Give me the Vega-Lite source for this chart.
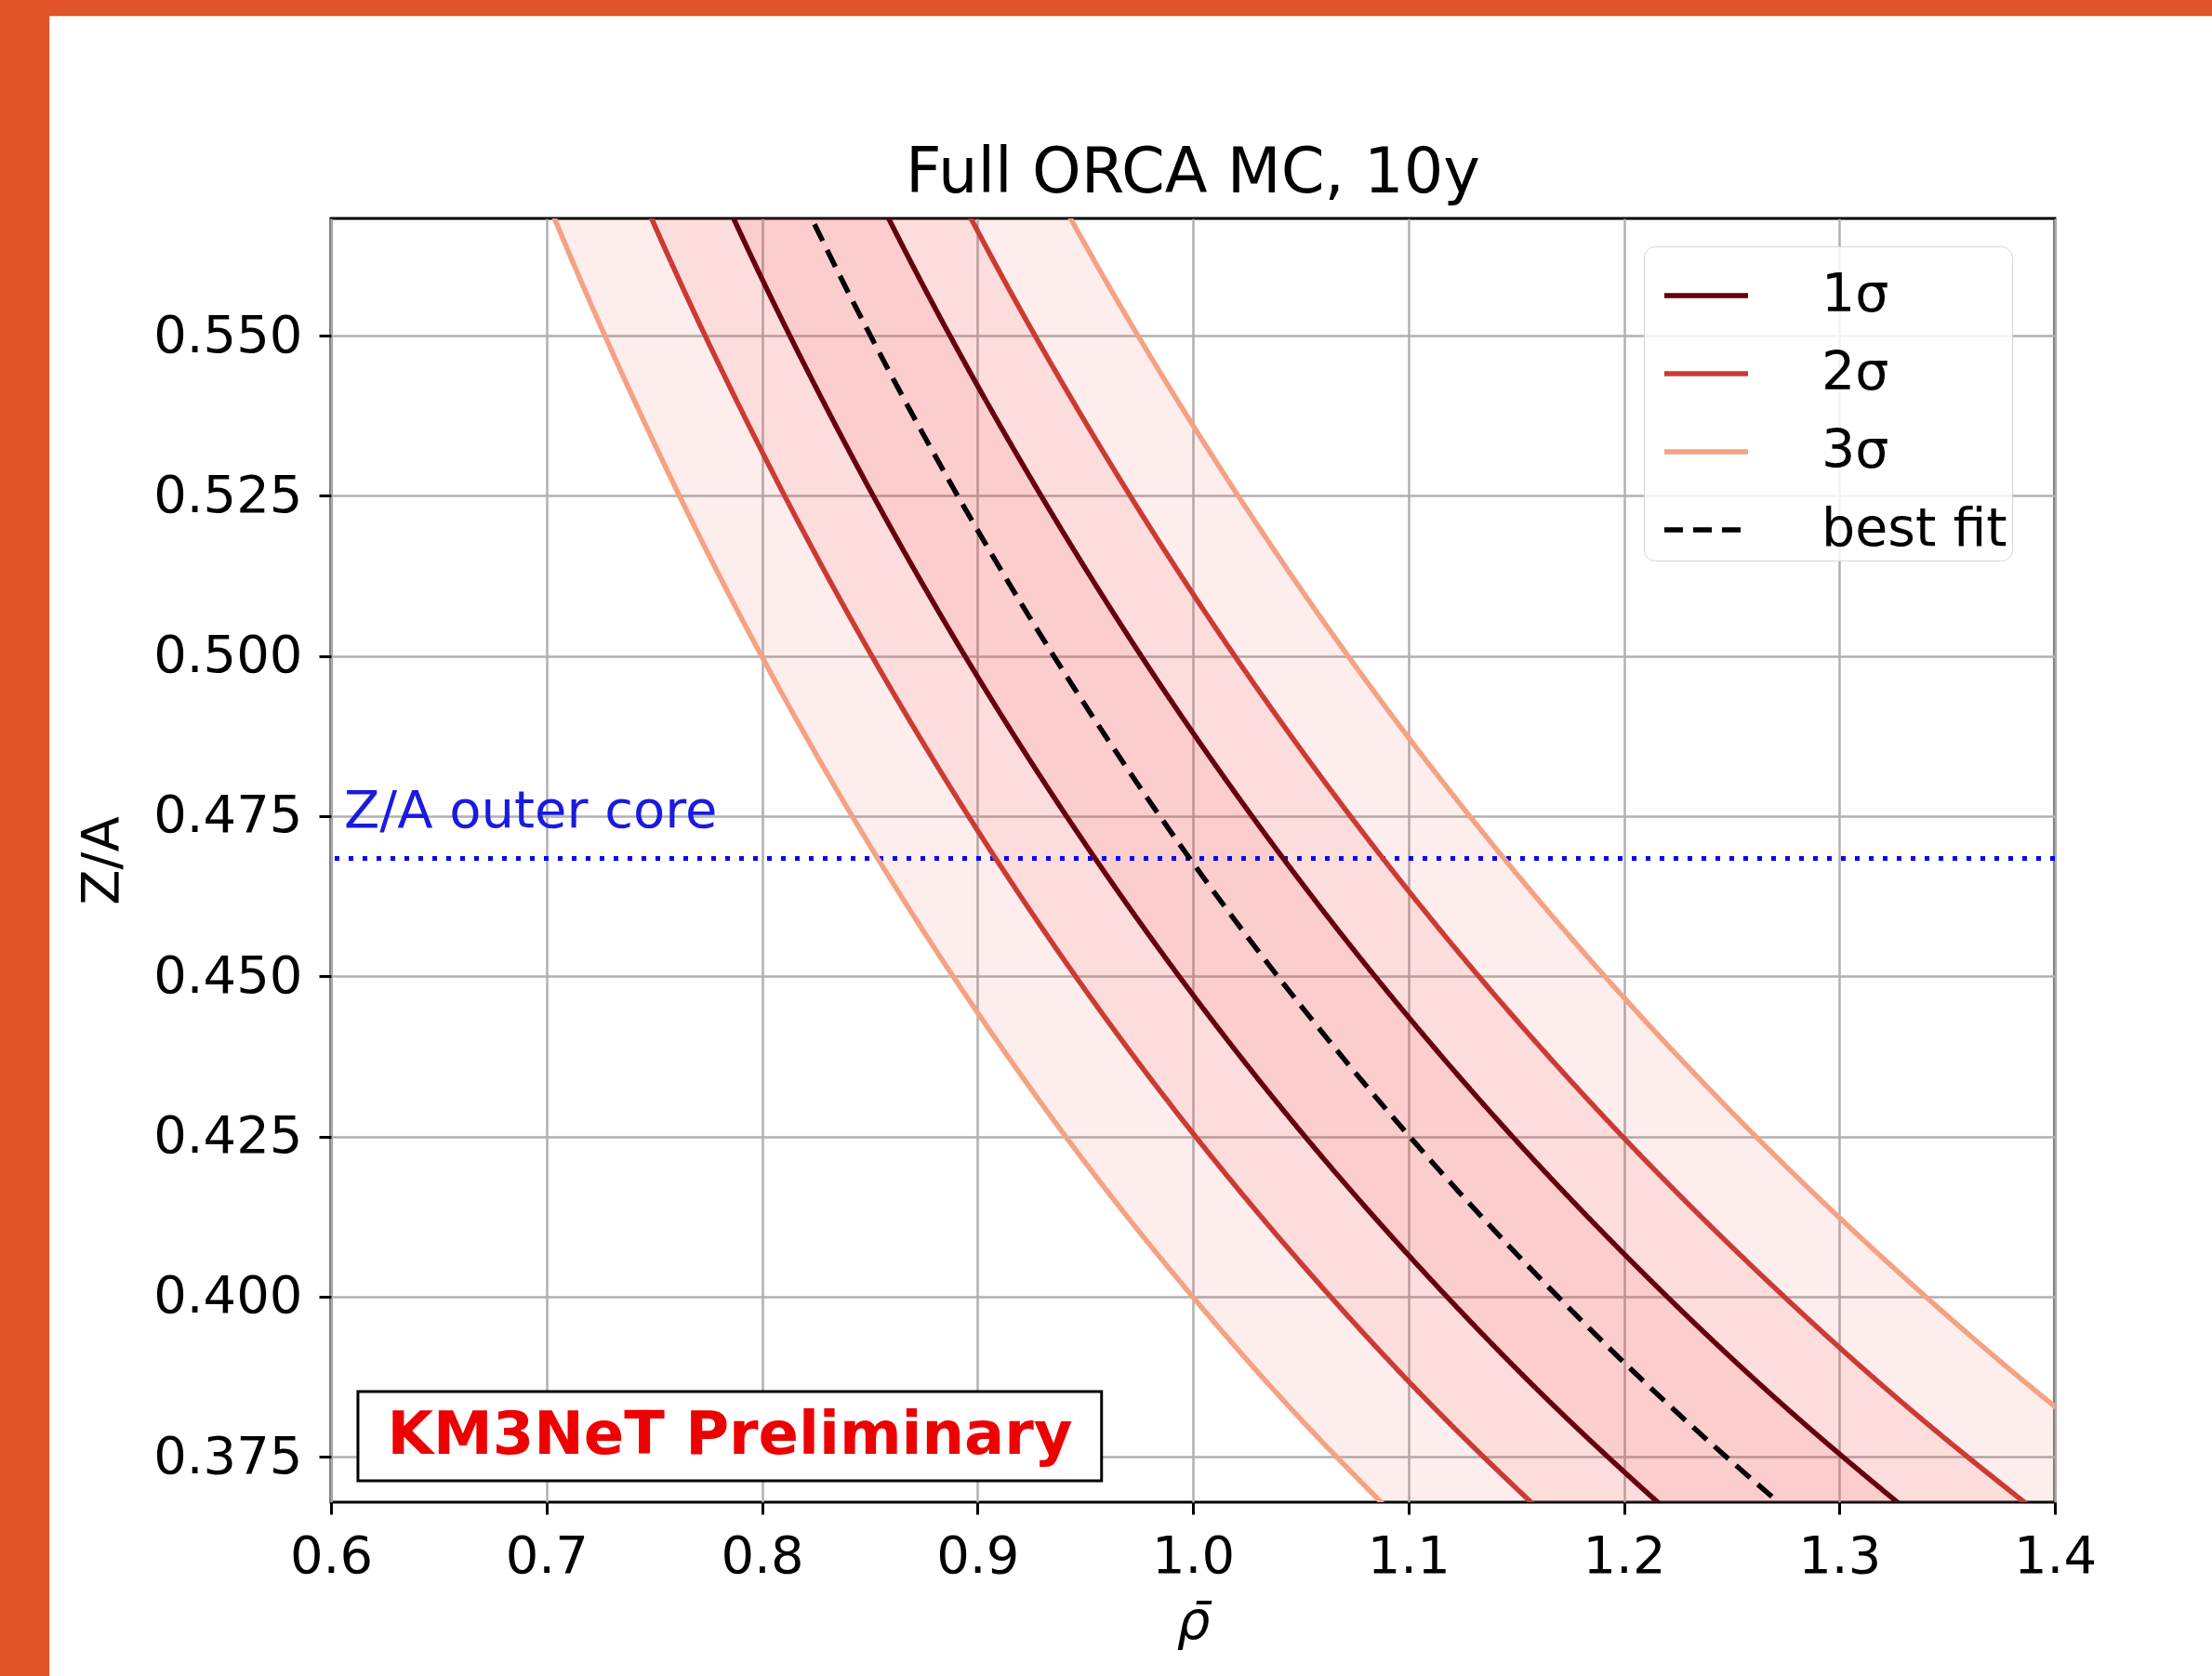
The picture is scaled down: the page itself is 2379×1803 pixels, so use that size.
{
  "$schema": "https://vega.github.io/schema/vega-lite/v6.json",
  "width": 1854,
  "height": 1381,
  "autosize": {"type": "none"},
  "padding": {"left": 356, "top": 235, "right": 169, "bottom": 187},
  "background": "white",
  "title": {"text": "Full ORCA MC, 10y", "fontSize": 67, "font": "DejaVu Sans", "fontWeight": "normal", "color": "black", "offset": -231},
  "data": {"values": [{}]},
  "datasets": {
    "bands": [
      {"za": 0.36, "lo3": 1.1108, "lo2": 1.1819, "lo1": 1.2419, "best": 1.2992, "hi1": 1.3556, "hi2": 1.4158, "hi3": 1.4889},
      {"za": 0.38, "lo3": 1.0524, "lo2": 1.1197, "lo1": 1.1766, "best": 1.2308, "hi1": 1.2842, "hi2": 1.3413, "hi3": 1.4105},
      {"za": 0.40, "lo3": 0.9998, "lo2": 1.0638, "lo1": 1.1178, "best": 1.1693, "hi1": 1.2200, "hi2": 1.2743, "hi3": 1.3400},
      {"za": 0.42, "lo3": 0.9521, "lo2": 1.0131, "lo1": 1.0645, "best": 1.1136, "hi1": 1.1619, "hi2": 1.2136, "hi3": 1.2762},
      {"za": 0.44, "lo3": 0.9089, "lo2": 0.9670, "lo1": 1.0161, "best": 1.0630, "hi1": 1.1091, "hi2": 1.1584, "hi3": 1.2182},
      {"za": 0.46, "lo3": 0.8693, "lo2": 0.9250, "lo1": 0.9720, "best": 1.0167, "hi1": 1.0609, "hi2": 1.1080, "hi3": 1.1652},
      {"za": 0.48, "lo3": 0.8331, "lo2": 0.8865, "lo1": 0.9315, "best": 0.9744, "hi1": 1.0167, "hi2": 1.0619, "hi3": 1.1167},
      {"za": 0.50, "lo3": 0.7998, "lo2": 0.8510, "lo1": 0.8942, "best": 0.9354, "hi1": 0.9760, "hi2": 1.0194, "hi3": 1.0720},
      {"za": 0.52, "lo3": 0.7690, "lo2": 0.8183, "lo1": 0.8598, "best": 0.8994, "hi1": 0.9385, "hi2": 0.9802, "hi3": 1.0308},
      {"za": 0.54, "lo3": 0.7406, "lo2": 0.7880, "lo1": 0.8280, "best": 0.8661, "hi1": 0.9037, "hi2": 0.9439, "hi3": 0.9926},
      {"za": 0.56, "lo3": 0.7141, "lo2": 0.7598, "lo1": 0.7984, "best": 0.8352, "hi1": 0.8714, "hi2": 0.9102, "hi3": 0.9571},
      {"za": 0.58, "lo3": 0.6895, "lo2": 0.7336, "lo1": 0.7709, "best": 0.8064, "hi1": 0.8414, "hi2": 0.8788, "hi3": 0.9241}
    ]
  },
  "layer": [
    {
      "mark": {"type": "rect", "color": "#e05428", "clip": false},
      "encoding": {
        "x": {"datum": 0.4421, "type": "quantitative", "scale": {"domain": [0.6, 1.4], "nice": false, "zero": false}, "title": "ρ̄"},
        "x2": {"datum": 0.4693},
        "y": {"datum": 0.6038, "type": "quantitative", "scale": {"domain": [0.3679, 0.5683], "nice": false, "zero": false}, "title": "Z/A"},
        "y2": {"datum": 0.3390}
      }
    },
    {
      "mark": {"type": "rect", "color": "#e05428", "clip": false},
      "encoding": {
        "x": {"datum": 0.4421, "type": "quantitative", "title": "ρ̄"},
        "x2": {"datum": 1.4775},
        "y": {"datum": 0.6038, "type": "quantitative", "title": "Z/A"},
        "y2": {"datum": 0.5999}
      }
    },
    {
      "data": {"name": "bands"},
      "mark": {"type": "area", "color": "#f03b3b", "opacity": 0.09, "clip": true, "interpolate": "natural", "orient": "horizontal"},
      "encoding": {
        "y": {"field": "za", "type": "quantitative", "title": "Z/A", "scale": {"domain": [0.3679, 0.5683], "nice": false, "zero": false},
              "axis": {"values": [0.375, 0.4, 0.425, 0.45, 0.475, 0.5, 0.525, 0.55], "format": ".3f", "labelOverlap": false}},
        "x": {"field": "lo3", "type": "quantitative", "title": "ρ̄", "scale": {"domain": [0.6, 1.4], "nice": false, "zero": false},
              "axis": {"values": [0.6, 0.7, 0.8, 0.9, 1.0, 1.1, 1.2, 1.3, 1.4], "format": ".1f", "labelOverlap": false, "labelFlush": false}},
        "x2": {"field": "hi3"}
      }
    },
    {
      "data": {"name": "bands"},
      "mark": {"type": "area", "color": "#f03b3b", "opacity": 0.09, "clip": true, "interpolate": "natural", "orient": "horizontal"},
      "encoding": {
        "y": {"field": "za", "type": "quantitative", "title": "Z/A"},
        "x": {"field": "lo2", "type": "quantitative", "title": "ρ̄"},
        "x2": {"field": "hi2"}
      }
    },
    {
      "data": {"name": "bands"},
      "mark": {"type": "area", "color": "#f03b3b", "opacity": 0.09, "clip": true, "interpolate": "natural", "orient": "horizontal"},
      "encoding": {
        "y": {"field": "za", "type": "quantitative", "title": "Z/A"},
        "x": {"field": "lo1", "type": "quantitative", "title": "ρ̄"},
        "x2": {"field": "hi1"}
      }
    },
    {
      "mark": {"type": "rule", "color": "#0000ff", "strokeWidth": 5, "strokeDash": [5, 10]},
      "encoding": {"y": {"datum": 0.4684, "type": "quantitative", "title": "Z/A"}}
    },
    {
      "data": {"name": "bands"},
      "transform": [{"fold": ["lo3", "lo2", "lo1", "best", "hi1", "hi2", "hi3"], "as": ["curve", "rho"]}],
      "mark": {"type": "line", "clip": true, "strokeWidth": 5.5, "interpolate": "natural"},
      "encoding": {
        "y": {"field": "za", "type": "quantitative", "title": "Z/A"},
        "x": {"field": "rho", "type": "quantitative", "title": "ρ̄"},
        "order": {"field": "za", "type": "quantitative"},
        "detail": {"field": "curve"},
        "color": {
          "field": "curve", "type": "nominal",
          "scale": {"domain": ["lo1", "hi1", "lo2", "hi2", "lo3", "hi3", "best"],
                    "range": ["#67000d", "#67000d", "#cb3b33", "#cb3b33", "#f4a283", "#f4a283", "#000000"]},
          "legend": {"values": ["lo1", "lo2", "lo3", "best"], "labelExpr": "datum.label == 'lo1' ? '1σ' : datum.label == 'lo2' ? '2σ' : datum.label == 'lo3' ? '3σ' : 'best fit'", "title": null}
        },
        "strokeDash": {
          "field": "curve", "type": "nominal",
          "scale": {"domain": ["lo1", "hi1", "lo2", "hi2", "lo3", "hi3", "best"],
                    "range": [[1, 0], [1, 0], [1, 0], [1, 0], [1, 0], [1, 0], [20, 11]]},
          "legend": {"values": ["lo1", "lo2", "lo3", "best"], "labelExpr": "datum.label == 'lo1' ? '1σ' : datum.label == 'lo2' ? '2σ' : datum.label == 'lo3' ? '3σ' : 'best fit'", "title": null}
        }
      }
    },
    {
      "mark": {"type": "text", "text": "Z/A outer core", "color": "#1a1ae0", "fontSize": 56, "font": "DejaVu Sans", "align": "left", "baseline": "alphabetic"},
      "encoding": {
        "x": {"datum": 0.606, "type": "quantitative", "title": "ρ̄"},
        "y": {"datum": 0.4732, "type": "quantitative", "title": "Z/A"}
      }
    },
    {
      "mark": {"type": "rect", "fill": "white", "stroke": "black", "strokeWidth": 3},
      "encoding": {
        "x": {"datum": 0.6125, "type": "quantitative", "title": "ρ̄"},
        "x2": {"datum": 0.9576},
        "y": {"datum": 0.38516, "type": "quantitative", "title": "Z/A"},
        "y2": {"datum": 0.37123}
      }
    },
    {
      "mark": {"type": "text", "text": "KM3NeT Preliminary", "color": "#ee0000", "fontSize": 64, "fontWeight": "bold", "font": "DejaVu Sans", "align": "center", "baseline": "middle"},
      "encoding": {
        "x": {"datum": 0.7851, "type": "quantitative", "title": "ρ̄"},
        "y": {"datum": 0.3782, "type": "quantitative", "title": "Z/A"}
      }
    }
  ],
  "config": {
    "font": "DejaVu Sans",
    "view": {"stroke": "black", "strokeWidth": 3},
    "axis": {
      "labelFontSize": 56, "labelColor": "black", "labelFont": "DejaVu Sans",
      "titleFont": "DejaVu Sans", "titleFontSize": 56, "titleFontWeight": "normal", "titleColor": "black",
      "tickColor": "black", "tickSize": 13, "tickWidth": 3, "domain": false,
      "grid": true, "gridColor": "#b0b0b0", "gridWidth": 2.5, "labelPadding": 18
    },
    "axisX": {"titlePadding": 16, "titleFontStyle": "italic"},
    "axisY": {"titlePadding": 26},
    "legend": {
      "orient": "none", "legendX": 1412, "legendY": 30,
      "symbolType": "stroke", "symbolSize": 8100, "symbolStrokeWidth": 5.5, "symbolOffset": 14,
      "labelFontSize": 57, "labelFont": "DejaVu Sans", "labelColor": "black", "labelOffset": 76, "labelLimit": 500,
      "rowPadding": 8, "padding": 5,
      "strokeColor": "#d5d5d5", "fillColor": "rgba(255,255,255,0.85)", "cornerRadius": 12, "legendStrokeWidth": 2.5
    }
  }
}
